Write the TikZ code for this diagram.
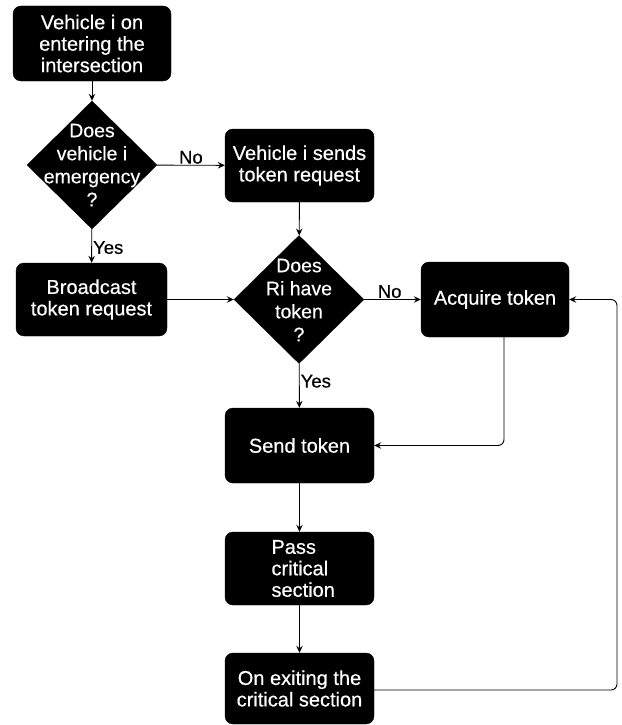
\documentclass[tikz,border=0pt]{standalone}
\usepackage{fontspec}
\setmainfont{Liberation Sans}[FakeBold=0.5]
\usepackage{tikz}
\usetikzlibrary{shapes.geometric,arrows,arrows.meta,positioning,calc}

\begin{document}
\begin{tikzpicture}[
        x=1pt, y=-1pt,
        >={Stealth[length=7pt,width=6.5pt,inset=2.5pt]},
        font=\fontsize{20}{21.5}\selectfont,
        proc/.style={draw, fill=black, text=white, rounded corners=8pt, align=center, minimum width=149pt, minimum height=73pt, inner sep=2pt},
        decision/.style={diamond, draw, fill=black, minimum width=130pt, minimum height=128pt, inner sep=0pt, aspect=1},
        dtext/.style={text=white, align=center, inner sep=0pt, font=\fontsize{19.5}{23}\selectfont},
        lbl/.style={font=\fontsize{18.5}{21}\selectfont, inner sep=1pt},
        line/.style={draw, line width=0.9pt}
    ]
        \useasboundingbox (0,0) rectangle (621,725);
        % boxes
        \node[proc, minimum width=158pt, minimum height=75pt] (start) at (92,43.5) {Vehicle i on\\entering the\\intersection};
        \node[decision] (emerg) at (92,165) {};
        \node[dtext] (emergtext) at (92,165) {Does\\vehicle i\\emergency\\?};
        \node[proc] (vsend) at (299.5,165.5) {Vehicle i sends\\token request};
        \node[proc, minimum width=151pt] (bcast) at (91.5,299.5) {Broadcast\\token request};
        \node[decision] (hastoken) at (299,299.5) {};
        \node[dtext] (hastokentext) at (299,300) {Does\\Ri have\\token\\?};
        \node[proc, minimum width=148pt, minimum height=75pt] (acquire) at (495,299.5) {Acquire token};
        \node[proc, minimum height=75pt] (send) at (299.5,445.5) {Send token};
        \node[proc, align=left, text width=56pt] (pass) at (299.5,568.5) {Pass\\critical\\section};
        \node[proc, minimum height=71pt] (exit) at (299.5,688.5) {On exiting the\\critical section};
        \coordinate (loop) at (617,690);
        % connectors
        \draw[line,->] (start) -- (emerg);
        \draw[line,->] (emerg) -- node[lbl, above, pos=0.5] (no1) {No} (vsend);
        \draw[line,->] (emerg) -- node[lbl, right, pos=0.55] (yes1) {Yes} (bcast);
        \draw[line,->] (vsend) -- (hastoken);
        \draw[line,->] (bcast) -- (hastoken);
        \draw[line,->] (hastoken) -- node[lbl, above, pos=0.45] (no2) {No} (acquire);
        \draw[line,->] (hastoken) -- node[lbl, right, pos=0.4] (yes2) {Yes} (send);
        \draw[line,->,rounded corners=6pt] ([xshift=9pt]acquire.south) |- (send.east);
        \draw[line,->] (send) -- (pass);
        \draw[line,->] (pass) -- (exit);
        \draw[line,->,rounded corners=6pt] (exit.east |- loop) -- (loop) |- (acquire.east);
    \end{tikzpicture}
\end{document}
